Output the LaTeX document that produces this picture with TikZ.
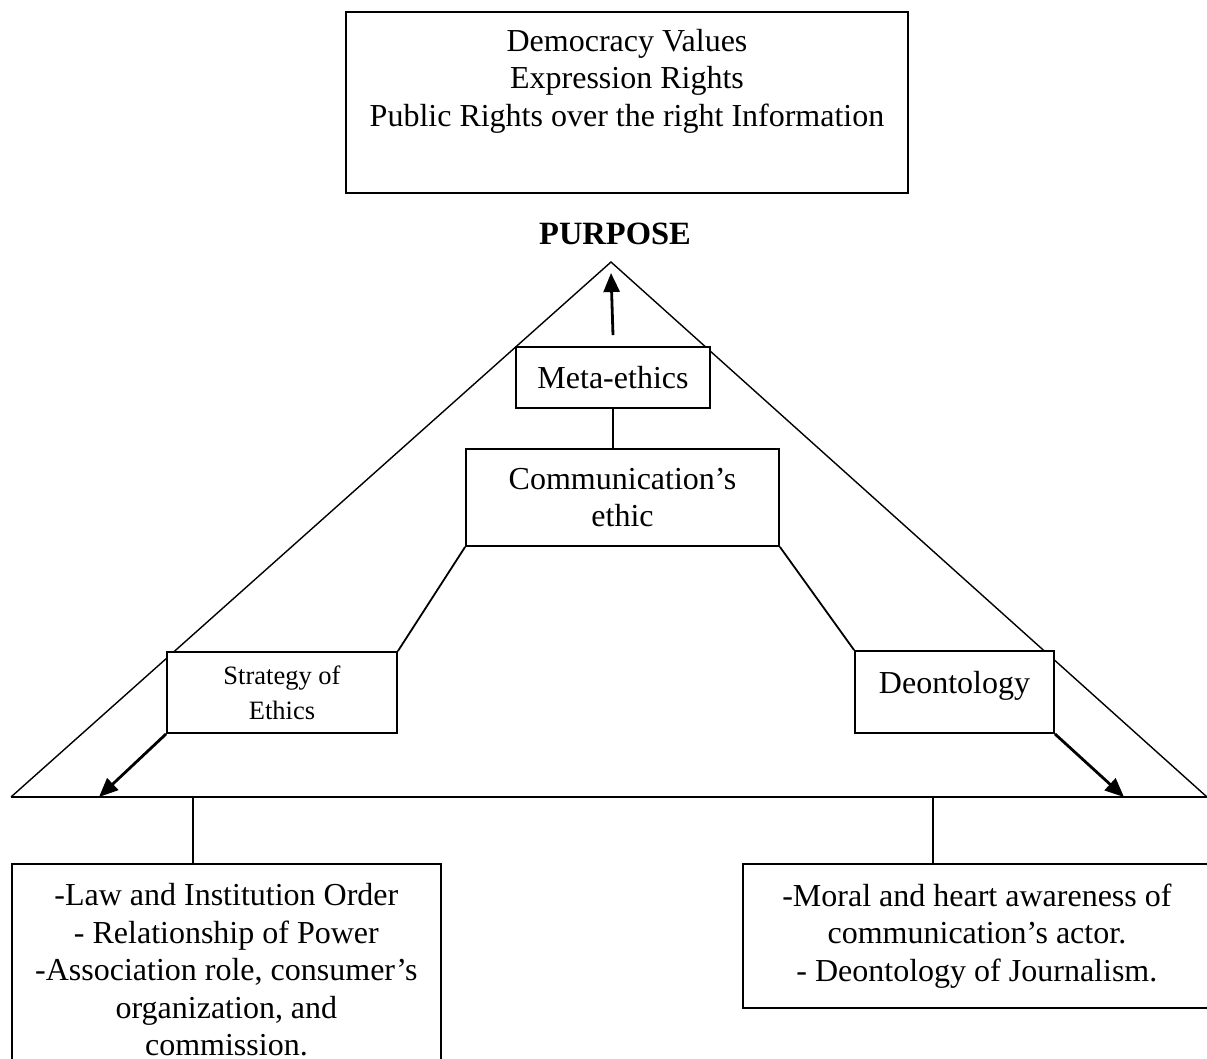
\documentclass[tikz,border=0pt]{standalone}
\usepackage{fontspec}
\setmainfont{Liberation Serif}
\usepackage{tikz}
\usetikzlibrary{calc}
\usetikzlibrary{arrows.meta}
\tikzset{
	align=center,
	box/.style={
		draw,
		rectangle,
		fill=white,
		inner sep=0pt,
		line width=1.8pt,
		font=\fontsize{32}{37.5}\selectfont,
	},
	smallbox/.style={
		box,
		font=\fontsize{26.5}{35}\selectfont,
	},
	side/.style={line width=1.4pt},
	flow/.style={
		line width=2.8pt,
		-{Triangle[length=19pt,width=16pt]}
	},
}

\begin{document}
\begin{tikzpicture}[x=1pt,y=-1pt,line width=1.8pt]
	\useasboundingbox (0,0) rectangle (1207,1058);
	\clip (0,0) rectangle (1207,1058);

	\coordinate (apex) at (611,262);
	\coordinate (footL) at (11,797);
	\coordinate (footR) at (1207,797);
	\coordinate (baseR) at (1215,797);
	\coordinate (arrowL) at (99,797);
	\coordinate (arrowR) at (1124,797);
	\coordinate (lawtap) at (193,797);
	\coordinate (moraltap) at (933,797);

	% the triangle and its base
	\draw[side] (footL) -- (apex) -- (footR);
	\draw (baseR) -- (footL);

	\node[box, minimum width=562pt, minimum height=181pt] (values) at (627,102.5) {};
	\node[anchor=north, inner sep=0pt, font=\fontsize{32}{37.5}\selectfont] (valuestext) at ([yshift=-17pt]values.north)
		{Democracy Values\\Expression Rights\\Public Rights over the right Information};

	\node[font=\bfseries\fontsize{32.5}{38}\selectfont] (purpose) at (615,234) {PURPOSE};

	\node[box, minimum width=194pt, minimum height=61pt] (meta) at (613,377.5) {Meta-ethics};
	\node[box, minimum width=313pt, minimum height=97pt] (comm) at (622.5,497.5) {Communication's\\ethic};
	\node[smallbox, minimum width=230pt, minimum height=81pt] (strategy) at (282,692.5) {Strategy of\\Ethics};
	\node[box, minimum width=199pt, minimum height=82pt, text depth=20pt] (deon) at (954.5,692) {Deontology};

	\node[box, minimum width=429pt, minimum height=212pt, anchor=north west] (law) at (11,863)
		{-Law and Institution Order\\- Relationship of Power\\-Association role, consumer's\\organization, and\\commission.};
	\node[box, minimum width=468pt, minimum height=144pt, anchor=north west] (moral) at (742,863)
		{-Moral and heart awareness of\\communication's actor.\\- Deontology of Journalism.};

	\draw (meta.south) -- (meta.south |- comm.north);
	\draw (comm.south west) -- (strategy.north east);
	\draw (comm.south east) -- (deon.north west);
	\draw (lawtap) -- (lawtap |- law.north);
	\draw (moraltap) -- (moraltap |- moral.north);

	\draw[flow] ([yshift=11pt]meta.north) -- ([yshift=-11pt]apex);
	\draw[flow] (strategy.south west) -- (arrowL);
	\draw[flow] (deon.south east) -- (arrowR);

\end{tikzpicture}
\end{document}
